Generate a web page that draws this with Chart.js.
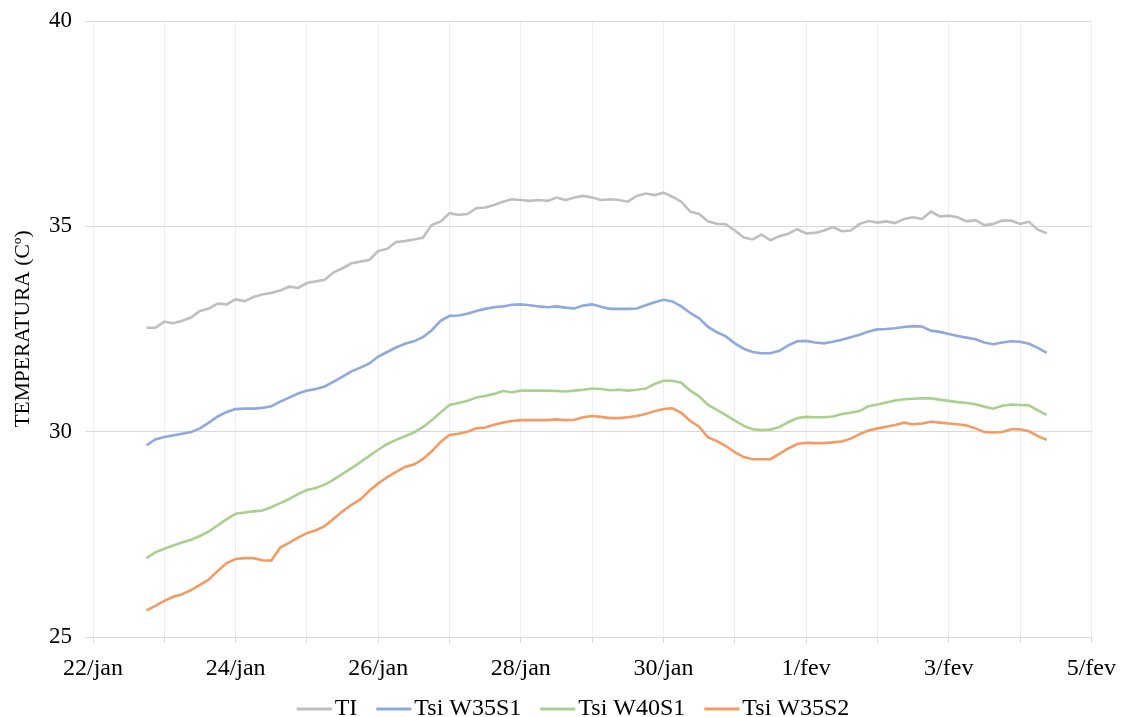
<!DOCTYPE html>
<html>
<head>
<meta charset="utf-8">
<script src="https://cdn.jsdelivr.net/npm/chart.js@4/dist/chart.umd.min.js"></script>
<style>
  html, body { margin: 0; padding: 0; background: #ffffff; }
  #wrap { width: 1127px; height: 717px; position: relative; }
</style>
</head>
<body>
<div id="wrap"><canvas id="chart"></canvas></div>
<script>
// Readings every 3 hours, starting 22/jan 18:00 (time in days from 22/jan 00:00)
const startDay = 0.75;
const stepDays = 0.125;

// Day tick labels, one per day from 22/jan to 5/fev (only every second day is labelled)
const dayLabels = ['22/jan', '', '24/jan', '', '26/jan', '', '28/jan', '', '30/jan', '', '1/fev', '', '3/fev', '', '5/fev'];

const seriesNames = ['TI', 'Tsi W35S1', 'Tsi W40S1', 'Tsi W35S2'];
const seriesColors = ['#BFBFBF', '#8EA9DB', '#A9D08E', '#F29B62'];

const tempTI = [
  32.53, 32.53, 32.68, 32.64, 32.70, 32.78, 32.94, 33.00, 33.12, 33.10,
  33.22, 33.18, 33.28, 33.34, 33.38, 33.44, 33.53, 33.50, 33.62, 33.66,
  33.70, 33.88, 33.98, 34.10, 34.14, 34.18, 34.40, 34.45, 34.62, 34.64,
  34.68, 34.72, 35.03, 35.12, 35.32, 35.28, 35.30, 35.44, 35.46, 35.52,
  35.60, 35.66, 35.64, 35.62, 35.64, 35.62, 35.70, 35.64, 35.70, 35.74,
  35.70, 35.64, 35.66, 35.64, 35.60, 35.74, 35.80, 35.76, 35.82, 35.72,
  35.60, 35.36, 35.30, 35.12, 35.06, 35.05, 34.90, 34.73, 34.68, 34.80,
  34.66, 34.76, 34.82, 34.93, 34.83, 34.84, 34.90, 34.98, 34.88, 34.90,
  35.06, 35.13, 35.09, 35.12, 35.08, 35.18, 35.22, 35.18, 35.36, 35.24,
  35.26, 35.22, 35.12, 35.15, 35.03, 35.06, 35.14, 35.14, 35.06, 35.11,
  34.92, 34.83
];

const tempW35S1 = [
  29.67, 29.81, 29.87, 29.91, 29.95, 29.99, 30.08, 30.22, 30.37, 30.48,
  30.55, 30.56, 30.56, 30.58, 30.62, 30.73, 30.83, 30.93, 31.00, 31.04,
  31.10, 31.22, 31.34, 31.47, 31.56, 31.66, 31.83, 31.94, 32.05, 32.14,
  32.20, 32.30, 32.47, 32.70, 32.82, 32.83, 32.87, 32.94, 32.99, 33.03,
  33.05, 33.09, 33.10, 33.08, 33.05, 33.03, 33.05, 33.02, 33.00, 33.07,
  33.10, 33.04, 32.99, 32.99, 32.99, 33.00, 33.08, 33.15, 33.21, 33.17,
  33.05, 32.89, 32.76, 32.55, 32.42, 32.32, 32.15, 32.02, 31.94, 31.91,
  31.91, 31.97, 32.10, 32.20, 32.21, 32.17, 32.15, 32.19, 32.24, 32.30,
  32.36, 32.44, 32.49, 32.50, 32.52, 32.55, 32.57, 32.56, 32.46, 32.43,
  32.38, 32.33, 32.29, 32.25, 32.17, 32.13, 32.17, 32.20, 32.19, 32.14,
  32.04, 31.92
];

const tempW40S1 = [
  26.92, 27.06, 27.15, 27.23, 27.30, 27.37, 27.46, 27.57, 27.72, 27.87,
  28.00, 28.03, 28.06, 28.08, 28.16, 28.26, 28.36, 28.48, 28.58, 28.63,
  28.71, 28.83, 28.97, 29.11, 29.26, 29.41, 29.56, 29.70, 29.80, 29.89,
  29.98, 30.11, 30.28, 30.47, 30.65, 30.70, 30.75, 30.83, 30.87, 30.92,
  30.99, 30.96, 31.00, 31.00, 31.00, 31.00, 30.99, 30.98, 31.00, 31.02,
  31.05, 31.04, 31.01, 31.02, 31.00, 31.02, 31.05, 31.16, 31.24, 31.24,
  31.19, 31.00, 30.86, 30.65, 30.53, 30.40, 30.27, 30.14, 30.06, 30.04,
  30.05, 30.11, 30.23, 30.33, 30.36, 30.35, 30.35, 30.37, 30.43, 30.46,
  30.50, 30.62, 30.66, 30.71, 30.76, 30.79, 30.80, 30.81, 30.81, 30.78,
  30.75, 30.72, 30.70, 30.67, 30.61, 30.56, 30.63, 30.66, 30.65, 30.64,
  30.52, 30.41
];

const tempW35S2 = [
  25.65, 25.76, 25.88, 25.98, 26.04, 26.14, 26.27, 26.40, 26.61, 26.80,
  26.90, 26.92, 26.92, 26.87, 26.86, 27.18, 27.29, 27.42, 27.53, 27.60,
  27.70, 27.88, 28.06, 28.22, 28.35, 28.56, 28.74, 28.89, 29.02, 29.14,
  29.20, 29.33, 29.52, 29.75, 29.92, 29.95, 30.00, 30.08, 30.10, 30.17,
  30.22, 30.26, 30.28, 30.28, 30.28, 30.28, 30.30, 30.28, 30.29, 30.35,
  30.38, 30.36, 30.33, 30.33, 30.35, 30.38, 30.43, 30.50, 30.55, 30.57,
  30.46, 30.26, 30.12, 29.86, 29.77, 29.65, 29.50, 29.38, 29.33, 29.33,
  29.33, 29.46, 29.59, 29.70, 29.73, 29.72, 29.72, 29.74, 29.76, 29.83,
  29.94, 30.03, 30.08, 30.12, 30.16, 30.22, 30.18, 30.20, 30.24, 30.22,
  30.20, 30.18, 30.15, 30.08, 29.99, 29.98, 29.99, 30.06, 30.06, 30.01,
  29.89, 29.80
];

const yTicks = [25, 30, 35, 40];

const allSeries = [tempTI, tempW35S1, tempW40S1, tempW35S2];

function toPoints(values) {
  return values.map((v, i) => ({ x: startDay + i * stepDays, y: v }));
}

const datasets = allSeries.map((vals, k) => ({
  label: seriesNames[k],
  data: toPoints(vals),
  borderColor: seriesColors[k],
  backgroundColor: seriesColors[k],
  borderWidth: 2.6,
  pointRadius: 0,
  tension: 0,
  fill: false
}));

const serif = "'Liberation Serif', 'Times New Roman', serif";

// Legend row under the axis: short line sample, text right next to it
const lineLegend = {
  id: 'lineLegend',
  afterDraw(chart) {
    const ctx = chart.ctx;
    const sampleLen = 35, textGap = 3, itemGap = 19;
    const centerX = 573, y = 709;
    ctx.save();
    ctx.font = '24px ' + serif;
    ctx.textBaseline = 'middle';
    ctx.textAlign = 'left';
    const items = chart.data.datasets.map(ds => ({
      label: ds.label, color: ds.borderColor, w: ctx.measureText(ds.label).width
    }));
    const total = items.reduce((s, it) => s + sampleLen + textGap + it.w, 0) + itemGap * (items.length - 1);
    let x = centerX - total / 2;
    items.forEach(it => {
      ctx.strokeStyle = it.color;
      ctx.lineWidth = 3;
      ctx.beginPath();
      ctx.moveTo(x, y);
      ctx.lineTo(x + sampleLen, y);
      ctx.stroke();
      x += sampleLen + textGap;
      ctx.fillStyle = '#000000';
      ctx.fillText(it.label, x, y);
      x += it.w + itemGap;
    });
    ctx.restore();
  }
};

new Chart(document.getElementById('chart'), {
  type: 'line',
  data: { datasets },
  plugins: [lineLegend],
  options: {
    responsive: true,
    maintainAspectRatio: false,
    animation: false,
    events: [],
    layout: { padding: { top: 21, right: 28, bottom: 0, left: 0 } },
    plugins: {
      tooltip: { enabled: false },
      legend: { display: false }
    },
    scales: {
      x: {
        type: 'linear',
        min: 0,
        max: dayLabels.length - 1,
        afterFit(scale) { scale.height = 80; },
        afterBuildTicks(scale) {
          scale.ticks = dayLabels.map((_, i) => ({ value: i }));
        },
        border: { color: '#D9D9D9', width: 1 },
        grid: {
          color: '#EEEEEE',
          lineWidth: 1,
          drawTicks: true,
          tickLength: 6,
          tickColor: '#D9D9D9'
        },
        ticks: {
          autoSkip: false,
          maxRotation: 0,
          padding: 11,
          color: '#000000',
          font: { family: serif, size: 24 },
          callback: (v) => dayLabels[Math.round(v)]
        }
      },
      y: {
        min: yTicks[0],
        max: yTicks[yTicks.length - 1],
        afterFit(scale) { scale.width = 93; },
        afterBuildTicks(scale) {
          scale.ticks = yTicks.map(v => ({ value: v }));
        },
        border: { display: false },
        grid: {
          color: '#D9D9D9',
          lineWidth: 1,
          drawTicks: true,
          tickLength: 8,
          tickColor: '#D9D9D9'
        },
        ticks: {
          padding: 13,
          color: '#000000',
          font: { family: serif, size: 23, lineHeight: 0.5 }
        },
        title: {
          display: true,
          text: 'TEMPERATURA (Cº)',
          color: '#000000',
          font: { family: serif, size: 21.5 },
          padding: { top: 10, bottom: 4 }
        }
      }
    }
  }
});
</script>
</body>
</html>
